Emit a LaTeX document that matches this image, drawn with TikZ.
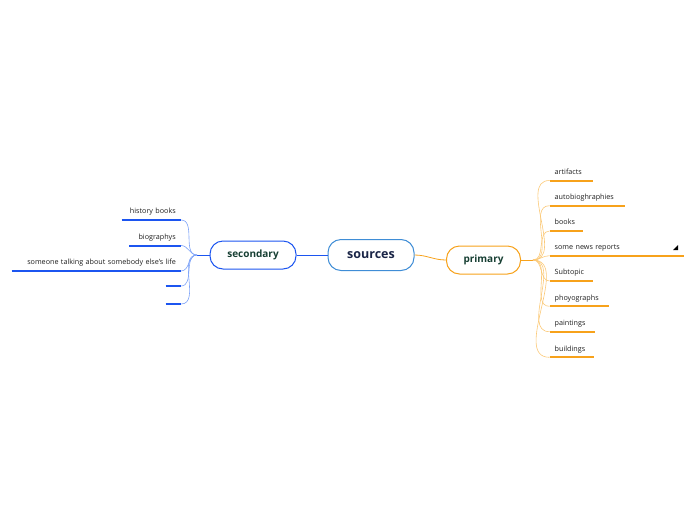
\documentclass[tikz,border=0pt]{standalone}
\usepackage{fontspec}
\setmainfont{Open Sans}
\usepackage{tikz}
\definecolor{srcblue}{HTML}{3F8DD6}
\definecolor{secblue}{HTML}{1C55F0}
\definecolor{seclight}{HTML}{7FA4F8}
\definecolor{primorange}{HTML}{F7A21B}
\definecolor{primlight}{HTML}{FBC978}
\definecolor{topicgreen}{HTML}{173F33}
\definecolor{srcnavy}{HTML}{1A2547}

\begin{document}
\begin{tikzpicture}[x=1pt, y=-1pt,
    topic/.style={draw, rounded corners=13pt, line width=1pt, fill=white, font=\bfseries\fontsize{10}{12}\selectfont, text=topicgreen},
    leaf/.style={inner xsep=5pt, inner ysep=4.5pt, text height=5.5pt, text depth=1.5pt, font=\fontsize{7.2}{9}\selectfont, text=black!88},
    secleaf/.style={leaf, anchor=south east, align=right, text width=#1},
    primleaf/.style={leaf, anchor=south west, align=left, text width=#1},
    seccurve/.style={draw=seclight, line width=0.6pt},
    secunder/.style={draw=secblue, line width=2pt},
    primcurve/.style={draw=primlight, line width=0.6pt},
    primunder/.style={draw=primorange, line width=2pt}]
    \useasboundingbox (0,0) rectangle (696,520);

    \node[topic, draw=srcblue, text=srcnavy, font=\bfseries\fontsize{12.5}{15}\selectfont, minimum width=86pt, minimum height=31pt] (src) at (371,255) {sources};
    \node[topic, draw=secblue, minimum width=86pt, minimum height=28pt] (sec) at (253,255) {secondary};
    \node[topic, draw=primorange, minimum width=74pt, minimum height=28pt] (prim) at (483.5,260) {primary};

    \draw[secblue, line width=0.8pt] (sec.east) -- (src.west);
    \draw[primorange, line width=0.8pt] (src.east) to[out=0, in=180] (prim.west);

    % secondary side
    \coordinate (sj) at (197,255);
    \draw[secblue, line width=0.8pt] (sec.west) -- (sj);
    \node[secleaf=49pt] (hist) at (181,220) {history books};
    \node[secleaf=41.5pt] (bio) at (181,245.5) {biographys};
    \node[secleaf=159pt] (someone) at (181,271) {someone talking about somebody else's life};
    \node[secleaf=5pt] (blanka) at (181,286) {};
    \node[secleaf=5pt] (blankb) at (181,304) {};
    \foreach \n in {hist, bio, someone, blanka, blankb} {
        \draw[seccurve] (sj) to[out=180, in=0] (\n.south east);
        \draw[secunder] (\n.south west) -- (\n.south east);
    }

    % primary side
    \coordinate (pj) at (533,260);
    \draw[primorange, line width=0.8pt] (prim.east) -- (pj);
    \node[primleaf=33pt] (artifacts) at (549.5,180.5) {artifacts};
    \node[primleaf=65pt] (autobio) at (549.5,205.7) {autobioghraphies};
    \node[primleaf=23pt] (books) at (549.5,231) {books};
    \node[primleaf=124.5pt] (news) at (549.5,255.7) {some news reports};
    \node[primleaf=33pt] (subtopic) at (549.5,281) {Subtopic};
    \node[primleaf=49.5pt] (photos) at (549.5,306.3) {phoyographs};
    \node[primleaf=35.5pt] (paintings) at (549.5,331.7) {paintings};
    \node[primleaf=34.5pt] (buildings) at (549.5,357.3) {buildings};
    \foreach \n in {artifacts, autobio, books, news, subtopic, photos, paintings, buildings} {
        \draw[primcurve] (pj) to[out=0, in=180] (\n.south west);
        \draw[primunder] (\n.south west) -- (\n.south east);
    }
    \fill (678,245) -- (678,250) -- (673,250) -- cycle;
\end{tikzpicture}
\end{document}
